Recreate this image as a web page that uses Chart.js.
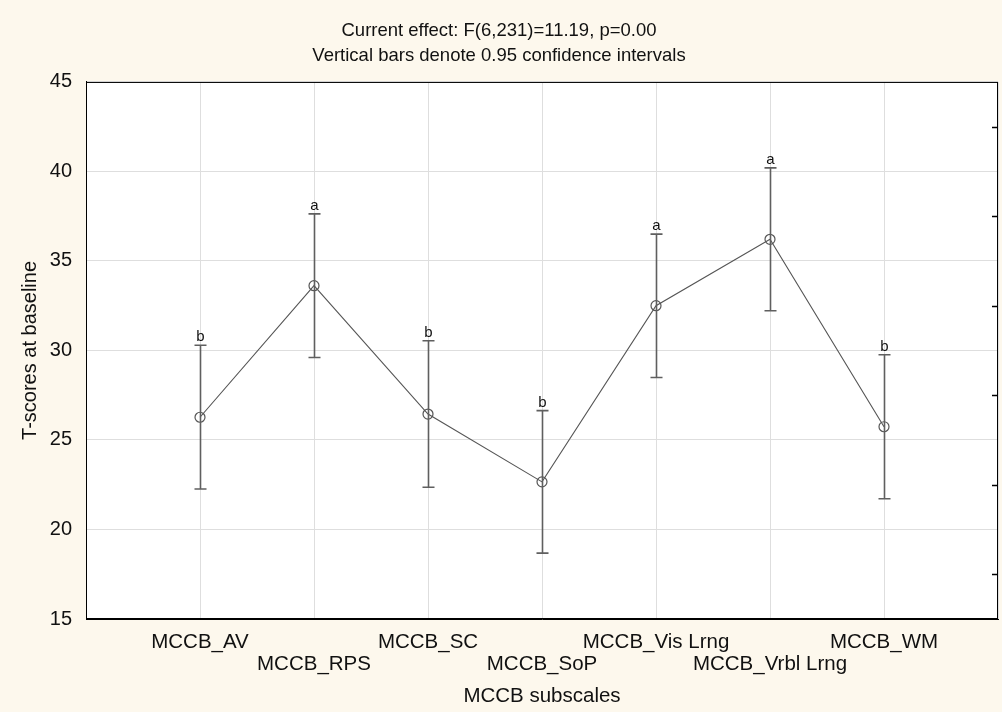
<!DOCTYPE html>
<html>
<head>
<meta charset="utf-8">
<script src="https://cdn.jsdelivr.net/npm/chart.js@4.4.1/dist/chart.umd.min.js"></script>
<style>
  html, body { margin: 0; padding: 0; background: #fdf8ed; }
  #wrap { width: 1002px; height: 712px; }
</style>
</head>
<body>
<div id="wrap"><canvas id="chart" width="1002" height="712"></canvas></div>
<script>
// data
const subscales = ['MCCB_AV', 'MCCB_RPS', 'MCCB_SC', 'MCCB_SoP', 'MCCB_Vis Lrng', 'MCCB_Vrbl Lrng', 'MCCB_WM'];
const means = [26.27, 33.62, 26.45, 22.66, 32.50, 36.21, 25.74];
const lowerCI = [22.26, 29.61, 22.36, 18.68, 28.49, 32.22, 21.72];
const upperCI = [30.29, 37.63, 30.54, 26.64, 36.50, 40.20, 29.76];
const groupLetters = ['b', 'a', 'b', 'b', 'a', 'a', 'b'];
const yTicks = [15, 20, 25, 30, 35, 40, 45];
const minorTicks = [17.5, 22.5, 27.5, 32.5, 37.5, 42.5];

const FONT = "'Liberation Sans', Arial, sans-serif";
const ctx = document.getElementById('chart');

// backgrounds: beige page, white plot area, black frame
const backgroundPlugin = {
  id: 'backgrounds',
  beforeDraw(chart) {
    const c = chart.ctx;
    const a = chart.chartArea;
    c.save();
    c.fillStyle = '#fdf8ed';
    c.fillRect(0, 0, chart.width, chart.height);
    c.fillStyle = '#ffffff';
    c.fillRect(a.left, a.top, a.right - a.left, a.bottom - a.top);
    c.restore();
  },
  afterDraw(chart) {
    const c = chart.ctx;
    const a = chart.chartArea;
    const y = chart.scales.y;
    c.save();
    c.strokeStyle = '#000';
    c.lineWidth = 1;
    c.strokeRect(a.left + 0.5, a.top + 0.5, a.right - a.left - 1, a.bottom - a.top - 1);
    // inward minor ticks on the right edge
    c.beginPath();
    minorTicks.forEach(v => {
      const py = Math.round(y.getPixelForValue(v)) + 0.5;
      c.moveTo(a.right - 6, py);
      c.lineTo(a.right, py);
    });
    c.lineWidth = 1.5;
    c.stroke();
    c.restore();
  }
};

// confidence interval whiskers + group letters
const errorBarPlugin = {
  id: 'errorBars',
  afterDatasetsDraw(chart) {
    const c = chart.ctx;
    const xs = chart.scales.x;
    const ys = chart.scales.y;
    c.save();
    c.strokeStyle = '#5f5f5f';
    c.lineWidth = 1.6;
    means.forEach((m, i) => {
      const px = Math.round(xs.getPixelForValue(i + 1)) + 0.5;
      const top = ys.getPixelForValue(upperCI[i]);
      const bot = ys.getPixelForValue(lowerCI[i]);
      c.beginPath();
      c.moveTo(px, top);
      c.lineTo(px, bot);
      c.moveTo(px - 6, top);
      c.lineTo(px + 6, top);
      c.moveTo(px - 6, bot);
      c.lineTo(px + 6, bot);
      c.stroke();
      c.fillStyle = '#111';
      c.font = '15px ' + FONT;
      c.textAlign = 'center';
      c.textBaseline = 'alphabetic';
      c.fillText(groupLetters[i], px, top - 4);
    });
    c.restore();
  }
};

new Chart(ctx, {
  type: 'line',
  data: {
    datasets: [{
      data: means.map((m, i) => ({ x: i + 1, y: m })),
      borderColor: '#555555',
      borderWidth: 1.1,
      pointRadius: 5,
      pointHoverRadius: 5,
      pointBorderColor: '#555555',
      pointBackgroundColor: 'rgba(0,0,0,0)',
      pointBorderWidth: 1.2,
      tension: 0,
      fill: false
    }]
  },
  options: {
    responsive: false,
    animation: false,
    devicePixelRatio: 1,
    layout: { autoPadding: false, padding: { left: 0, right: 4, top: 0, bottom: 0 } },
    plugins: {
      legend: { display: false },
      tooltip: { enabled: false },
      title: {
        display: true,
        text: ['Current effect: F(6,231)=11.19, p=0.00', 'Vertical bars denote 0.95 confidence intervals'],
        color: '#111',
        font: { family: FONT, size: 18.5, weight: 'normal', lineHeight: 1.35 },
        padding: { top: 18, bottom: 14 }
      }
    },
    scales: {
      x: {
        type: 'linear',
        min: 0,
        max: subscales.length + 1,
        afterBuildTicks: s => {
          s.ticks = [0, ...subscales.map((_, i) => i + 1), subscales.length + 1].map(v => ({ value: v }));
        },
        afterFit: s => {
          s.height = 93;
          s.paddingLeft = 0;
          s.paddingRight = 0;
        },
        ticks: {
          autoSkip: false,
          maxRotation: 0,
          padding: 12,
          color: '#111',
          font: { family: FONT, size: 20.5, lineHeight: 1.08 },
          callback: v => {
            const name = subscales[v - 1];
            if (!name) return '';
            return v % 2 === 1 ? name : ['', name];
          }
        },
        grid: { color: '#dedede', drawTicks: false },
        border: { color: '#000' },
        title: {
          display: true,
          text: 'MCCB subscales',
          color: '#111',
          font: { family: FONT, size: 20.5, lineHeight: 1.2 },
          padding: { top: 0, bottom: 3 }
        }
      },
      y: {
        min: 15,
        max: 45,
        afterBuildTicks: s => { s.ticks = yTicks.map(v => ({ value: v })); },
        afterFit: s => {
          s.width = 86;
          s.paddingTop = 0;
          s.paddingBottom = 0;
        },
        ticks: {
          padding: 14,
          color: '#111',
          font: { family: FONT, size: 20 }
        },
        grid: { color: '#dedede', drawTicks: false },
        border: { color: '#000' },
        title: {
          display: true,
          text: 'T-scores at baseline',
          color: '#111',
          font: { family: FONT, size: 20, lineHeight: 1.2 },
          padding: { top: 18, bottom: 0 }
        }
      }
    }
  },
  plugins: [backgroundPlugin, errorBarPlugin]
});
</script>
</body>
</html>
